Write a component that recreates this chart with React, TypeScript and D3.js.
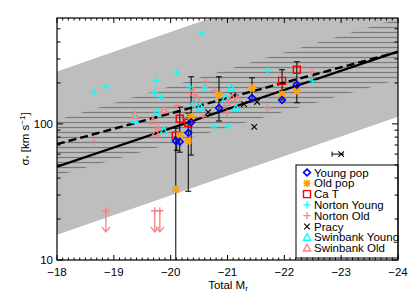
import React from "react";
import * as d3 from "d3";

const W = 415;
const H = 297;
const plot = { left: 57, right: 398, top: 18, bottom: 260 };

// axes
const xTicks = [-18, -19, -20, -21, -22, -23, -24];
const yTicks = [10, 100];
const yMinor = [20, 30, 40, 50, 60, 70, 80, 90, 200, 300, 400, 500];

// relations (end points, magnitude / km s^-1)
const fitAllMag = [-18, -24];
const fitAllSig = [48.5, 340];
const fitSampleSig = [71, 338];
const scatterLoSig = [15.3, 113];
const scatterHiSig = [243, 1800];
const hatchLoSig = [41.6, 212];
const hatchHiSig = [107, 593];

// this sample
const sampleMag = [-20.09, -20.16, -20.31, -20.36, -20.85, -21.43, -21.96, -22.22];
const youngSig = [75, 74, 86, 103, 131, 155, 150, 194];
const oldSig = [33, 82, 75, 113, 163, 184, 166, 175];
const catSig = [82, 109, 102, null, null, null, 207, 250];
const errHi = [93, 133, 120, 222, 222, 218, 250, 286];
const errLo = [8, 62, 32, 59, 105, 150, 150, 143];
const youngErrHi = [80, null, null, null, null, null, null, null];
const youngErrLo = [64, null, null, null, null, null, null, null];

// literature
const nortonYoungMag = [-18.65, -18.86, -19.72, -19.74, -19.83, -20.11, -20.34, -20.55, -20.6, -20.76, -21.01, -21.7, -22.49];
const nortonYoungSig = [172, 187, 169, 207, 158, 237, 187, 467, 184, 95, 95, 245, 207];
const nortonOldMag = [-18.65, -19.79, -20.11, -20.57, -20.62, -20.76, -20.99, -21.7, -22.49];
const nortonOldSig = [74, 93, 136, 113, 204, 175, 120, 131, 241];
const nortonLimitMag = [-18.86, -19.72, -19.81];
const nortonLimitSig = [23, 23, 23];
const pracyMag = [-20.66, -21.1, -21.29, -21.52, -21.47, -23.0];
const pracySig = [122, 161, 140, 145, 95, 60];
const swinYoungMag = [-19.37, -19.76, -19.88, -20.41, -20.52, -20.97, -21.06, -21.15];
const swinYoungSig = [107, 122, 89, 143, 133, 155, 184, 131];
const swinOldMag = [-19.37, -19.69, -19.74, -19.88, -20.39, -20.46, -20.99, -21.08, -21.17];
const swinOldSig = [116, 105, 86, 127, 172, 153, 143, 155, 153];

const legendLabels = ["Young pop", "Old pop", "Ca T", "Norton Young", "Norton Old", "Pracy", "Swinbank Young", "Swinbank Old"];

const BLUE = "#0000ff";
const ORANGE = "#ffa500";
const RED = "#ff0000";
const CYAN = "#00ffff";
const SALMON = "#f88080";

const x = d3.scaleLinear().domain([-18, -24]).range([plot.left, plot.right]);
const y = d3.scaleLog().domain([10, 600]).range([plot.bottom, plot.top]);

const sym = {
  diamond: (r: number) => `M0,${-r}L${r},0L0,${r}L${-r},0Z`,
  square: (r: number) => `M${-r},${-r}H${r}V${r}H${-r}Z`,
  plus: (r: number) => `M${-r},0H${r}M0,${-r}V${r}`,
  times: (r: number) => `M${-r},${-r}L${r},${r}M${-r},${r}L${r},${-r}`,
  triangle: (r: number) => `M0,${-r}L${r},${r * 0.8}L${-r},${r * 0.8}Z`,
};

const Marker = ({ kind, cx, cy }: { kind: string; cx: number; cy: number }) => {
  const t = `translate(${cx},${cy})`;
  switch (kind) {
    case "young":
      return <path transform={t} d={sym.diamond(3.4)} fill="none" stroke={BLUE} strokeWidth={1.6} />;
    case "old":
      return (
        <g transform={t}>
          <path d={sym.square(2.4)} fill={ORANGE} />
          <path d={sym.plus(3.6) + sym.times(3)} stroke={ORANGE} strokeWidth={1.6} />
        </g>
      );
    case "cat":
      return <path transform={t} d={sym.square(3.5)} fill="none" stroke={RED} strokeWidth={1.4} />;
    case "nyoung":
      return <path transform={t} d={sym.plus(3.6)} stroke={CYAN} strokeWidth={1.3} />;
    case "nold":
      return <path transform={t} d={sym.plus(3.6)} stroke={SALMON} strokeWidth={1.3} />;
    case "pracy":
      return <path transform={t} d={sym.times(2.8)} stroke="#000" strokeWidth={1.1} />;
    case "syoung":
      return <path transform={t} d={sym.triangle(3.6)} fill="none" stroke={CYAN} strokeWidth={1.4} />;
    case "sold":
      return <path transform={t} d={sym.triangle(3.6)} fill="none" stroke={SALMON} strokeWidth={1.4} />;
    default:
      return null;
  }
};

const legendKinds = ["young", "old", "cat", "nyoung", "nold", "pracy", "syoung", "sold"];

export default function App() {
  const line = d3
    .line<[number, number]>()
    .x((d) => x(d[0]))
    .y((d) => y(d[1]));

  const band = (lo: number[], hi: number[]) =>
    line([
      [fitAllMag[0], lo[0]],
      [fitAllMag[1], lo[1]],
      [fitAllMag[1], hi[1]],
      [fitAllMag[0], hi[0]],
    ]) + "Z";

  const font = "'Liberation Sans', Arial, Helvetica, sans-serif";
  const xMinor = d3.range(-180, -241, -1).map((v) => v / 10).filter((v) => !Number.isInteger(v));

  const capW = 3;

  return (
    <svg width={W} height={H} style={{ position: "absolute", left: 0, top: 0, background: "#fff" }} fontFamily={font}>
      <defs>
        <clipPath id="plotClip">
          <rect x={plot.left} y={plot.top} width={plot.right - plot.left} height={plot.bottom - plot.top} />
        </clipPath>
        <pattern id="hatch" patternUnits="userSpaceOnUse" width={8} height={5}>
          <line x1={0} x2={8} y1={2.5} y2={2.5} stroke="#7c7c7c" strokeWidth={1.3} />
        </pattern>
      </defs>

      <g clipPath="url(#plotClip)">
        <path d={band(scatterLoSig, scatterHiSig)} fill="#bebebe" />
        <path d={band(hatchLoSig, hatchHiSig)} fill="url(#hatch)" />
        <path
          d={line(fitAllMag.map((m, i) => [m, fitSampleSig[i]]) as [number, number][]) || ""}
          fill="none"
          stroke="#000"
          strokeWidth={2.4}
          strokeDasharray="8,4"
        />
        <path
          d={line(fitAllMag.map((m, i) => [m, fitAllSig[i]]) as [number, number][]) || ""}
          fill="none"
          stroke="#000"
          strokeWidth={2.4}
        />

        {/* error bars */}
        {sampleMag.map((m, i) => {
          const cx = x(m);
          const y1 = y(errHi[i]);
          const y2 = y(errLo[i]);
          return (
            <g key={"eb" + i} stroke="#000" strokeWidth={1}>
              <line x1={cx} x2={cx} y1={y1} y2={y2} />
              <line x1={cx - capW} x2={cx + capW} y1={y1} y2={y1} />
              <line x1={cx - capW} x2={cx + capW} y1={y2} y2={y2} />
            </g>
          );
        })}
        {sampleMag.map((m, i) => {
          if (youngErrHi[i] == null) return null;
          const cx = x(m) + 1;
          const y1 = y(youngErrHi[i] as number);
          const y2 = y(youngErrLo[i] as number);
          return (
            <g key={"yeb" + i} stroke="#000" strokeWidth={1}>
              <line x1={cx} x2={cx} y1={y1} y2={y2} />
              <line x1={cx - capW} x2={cx + capW} y1={y1} y2={y1} />
              <line x1={cx - capW} x2={cx + capW} y1={y2} y2={y2} />
            </g>
          );
        })}

        {/* literature */}
        {nortonYoungMag.map((m, i) => (
          <Marker key={"ny" + i} kind="nyoung" cx={x(m)} cy={y(nortonYoungSig[i])} />
        ))}
        {nortonOldMag.map((m, i) => (
          <Marker key={"no" + i} kind="nold" cx={x(m)} cy={y(nortonOldSig[i])} />
        ))}
        {nortonLimitMag.map((m, i) => {
          const cx = x(m);
          const top = y(nortonLimitSig[i]);
          const tip = y(nortonLimitSig[i] * 0.7);
          return (
            <g key={"nl" + i} stroke={SALMON} strokeWidth={1.3} fill="none">
              <path d={sym.plus(3.6)} transform={`translate(${cx},${top})`} />
              <line x1={cx} x2={cx} y1={top} y2={tip} />
              <path d={`M${cx - 4},${tip - 5}L${cx},${tip}L${cx + 4},${tip - 5}`} />
            </g>
          );
        })}
        {pracyMag.map((m, i) => (
          <Marker key={"pr" + i} kind="pracy" cx={x(m)} cy={y(pracySig[i])} />
        ))}
        <line
          x1={x(pracyMag[5] + 0.16)}
          x2={x(pracyMag[5] - 0.05)}
          y1={y(pracySig[5])}
          y2={y(pracySig[5])}
          stroke="#000"
          strokeWidth={1}
        />
        <line
          x1={x(pracyMag[5] + 0.16)}
          x2={x(pracyMag[5] + 0.16)}
          y1={y(pracySig[5]) - 2.5}
          y2={y(pracySig[5]) + 2.5}
          stroke="#000"
          strokeWidth={1}
        />
        {swinYoungMag.map((m, i) => (
          <Marker key={"sy" + i} kind="syoung" cx={x(m)} cy={y(swinYoungSig[i])} />
        ))}
        {swinOldMag.map((m, i) => (
          <Marker key={"so" + i} kind="sold" cx={x(m)} cy={y(swinOldSig[i])} />
        ))}

        {/* this sample */}
        {sampleMag.map((m, i) =>
          catSig[i] == null ? null : <Marker key={"ct" + i} kind="cat" cx={x(m)} cy={y(catSig[i] as number)} />
        )}
        {sampleMag.map((m, i) => (
          <Marker key={"ol" + i} kind="old" cx={x(m)} cy={y(oldSig[i])} />
        ))}
        {sampleMag.map((m, i) => (
          <Marker key={"yo" + i} kind="young" cx={x(m)} cy={y(youngSig[i])} />
        ))}
      </g>

      {/* legend */}
      <g>
        <rect x={296} y={165} width={plot.right - 296} height={93} fill="#fff" stroke="#000" strokeWidth={1} />
        {legendLabels.map((lab, i) => {
          const ly = 172.5 + i * 10.8;
          return (
            <g key={lab}>
              <Marker kind={legendKinds[i]} cx={307} cy={ly} />
              <text x={314} y={ly + 4} fontSize={11.5}>
                {lab}
              </text>
            </g>
          );
        })}
      </g>

      {/* frame and ticks */}
      <rect
        x={plot.left}
        y={plot.top}
        width={plot.right - plot.left}
        height={plot.bottom - plot.top}
        fill="none"
        stroke="#000"
        strokeWidth={1.2}
      />
      <g stroke="#000" strokeWidth={1}>
        {xTicks.map((t) => (
          <g key={"xt" + t}>
            <line x1={x(t)} x2={x(t)} y1={plot.bottom} y2={plot.bottom - 5} />
            <line x1={x(t)} x2={x(t)} y1={plot.top} y2={plot.top + 5} />
          </g>
        ))}
        {xMinor.map((t) => (
          <g key={"xm" + t}>
            <line x1={x(t)} x2={x(t)} y1={plot.bottom} y2={plot.bottom - 2.5} />
            <line x1={x(t)} x2={x(t)} y1={plot.top} y2={plot.top + 2.5} />
          </g>
        ))}
        {yTicks.map((t) => (
          <g key={"yt" + t}>
            <line x1={plot.left} x2={plot.left + 6} y1={y(t)} y2={y(t)} />
            <line x1={plot.right} x2={plot.right - 6} y1={y(t)} y2={y(t)} />
          </g>
        ))}
        {yMinor.map((t) => (
          <g key={"ym" + t}>
            <line x1={plot.left} x2={plot.left + 3.5} y1={y(t)} y2={y(t)} />
            <line x1={plot.right} x2={plot.right - 3.5} y1={y(t)} y2={y(t)} />
          </g>
        ))}
      </g>

      <g fontSize={11.5} fill="#000">
        {xTicks.map((t) => (
          <text key={"xl" + t} x={x(t)} y={plot.bottom + 16} textAnchor="middle">
            {"\u2212" + Math.abs(t)}
          </text>
        ))}
        {yTicks.map((t) => (
          <text key={"yl" + t} x={plot.left - 4} y={y(t) + 4} textAnchor="end">
            {t}
          </text>
        ))}
        <text x={228} y={289} textAnchor="middle">
          Total M<tspan fontSize={8} dy={2}>r</tspan>
        </text>
        <text transform={`translate(29,139) rotate(-90)`} textAnchor="middle">
          σ<tspan fontSize={8} dy={2}>*</tspan>
          <tspan dy={-2}> [km s</tspan>
          <tspan fontSize={8} dy={-4}>−1</tspan>
          <tspan dy={4}>]</tspan>
        </text>
      </g>
    </svg>
  );
}
